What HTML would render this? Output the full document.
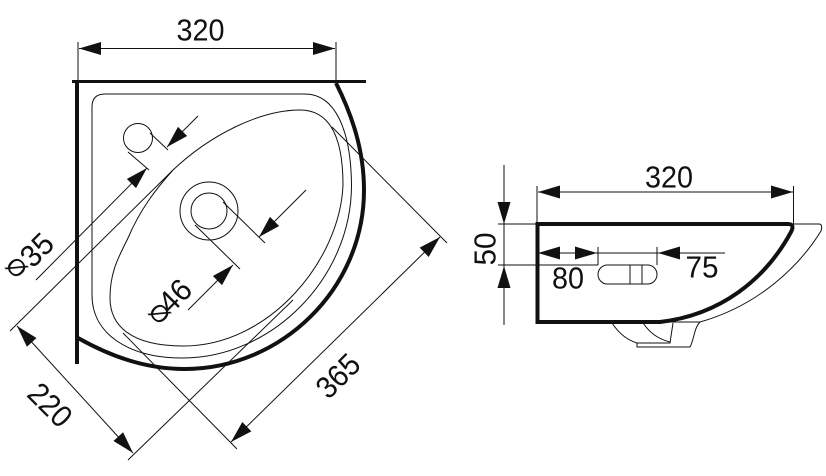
<!DOCTYPE html>
<html><head><meta charset="utf-8"><style>
html,body{margin:0;padding:0;background:#fff}
svg{display:block}
text{font-family:"Liberation Sans",sans-serif;font-size:31px;fill:#111;text-anchor:middle;dominant-baseline:central}
.t{fill:none;stroke:#111;stroke-width:1}
.b{fill:none;stroke:#111;stroke-width:4}
</style></head><body>
<svg width="826" height="476" viewBox="0 0 826 476" xmlns="http://www.w3.org/2000/svg">
<defs><polygon id="a" points="0,0 -22,-6.5 -22,6.5" fill="#111"/></defs>
<!-- left view -->
<path class="b" d="M72 81.5H366" style="stroke-width:3"/>
<path class="b" d="M77 81V364" style="stroke-width:4"/>
<path class="b" d="M336 83C352 115 364 150 364 190C364 290 280 369 185 369C145 369 110 356 78 338"/>
<path class="t" d="M78 42V80M336 42V80M79 48.5H335"/>
<use href="#a" transform="translate(79 48.5) rotate(180)"/>
<use href="#a" transform="translate(335 48.5)"/>
<path class="t" d="M105 94H305C335 94 351 130 351.500 185C351.500 280 270 358 183 358C130 358 92 335 92 295V107Q92 94 105 94Z"/>
<path class="t" d="M300 110C340 110 343 160 343 185C340 260 270 346 183 346C130 346 110 325 110 298C110 270 120 255 128 238C140 210 155 190 173 170C210 135 260 110 300 110Z"/>
<circle class="t" cx="138" cy="138" r="14.500"/>
<circle class="t" cx="209" cy="211" r="29"/>
<circle class="t" cx="209" cy="211" r="18"/>
<path class="t" d="M150 133L168 150M128 152L149 170M198 116L167 147M147 168L36 280"/>
<use href="#a" transform="translate(167 147) rotate(135)"/>
<use href="#a" transform="translate(147 168) rotate(-45)"/>
<path class="t" d="M223 202L265 243M195 225L240 269M306 190L259 237M233 265L188 310"/>
<use href="#a" transform="translate(259 237) rotate(135)"/>
<use href="#a" transform="translate(233 265) rotate(-45)"/>
<path class="t" d="M332 127L447 243M123 333L237 449M231 442L440 237M10 331L173 170M128 460L293 300M17 326L133 453"/>
<use href="#a" transform="translate(231 442) rotate(136)"/>
<use href="#a" transform="translate(440 237) rotate(-44)"/>
<use href="#a" transform="translate(17 326) rotate(-132)"/>
<use href="#a" transform="translate(133 453) rotate(48)"/>
<text x="200.500" y="30" textLength="48" lengthAdjust="spacingAndGlyphs">320</text>
<text transform="translate(16 268) rotate(45)" style="font-size:24px">Ø</text>
<text transform="translate(37 250) rotate(-45)" textLength="33" lengthAdjust="spacingAndGlyphs">35</text>
<text transform="translate(159 314) rotate(45)" style="font-size:24px">Ø</text>
<text transform="translate(175 296) rotate(-45)" textLength="33" lengthAdjust="spacingAndGlyphs">46</text>
<text transform="translate(338 376) rotate(-45)" textLength="48" lengthAdjust="spacingAndGlyphs">365</text>
<text transform="translate(50 405) rotate(45)" textLength="48" lengthAdjust="spacingAndGlyphs">220</text>
<!-- right view -->
<path class="b" d="M537.500 224H788Q795 224 791 232C765 280 720 315 660 322H537.500Z"/>
<path class="t" d="M793 224H819Q823 224 821 231C800 265 760 305 700 322H660M700 322C694 328 694 340 690 347H637V343H670L673 323M612 323C620 335 628 340 637 343M643 323C650 333 658 339 670 342"/>
<rect class="t" x="598" y="265" width="59" height="19" rx="9.500"/>
<path class="t" d="M630 265V284M642 265V284M598 247V265M657 247V265M537 186V224M793.500 186V224M538 192H793M537 253H657M657 253H725M504 165V325M498 224H537M498 265H598"/>
<use href="#a" transform="translate(538 192) rotate(180)"/>
<use href="#a" transform="translate(793 192)"/>
<use href="#a" transform="translate(538 253) rotate(180)"/>
<use href="#a" transform="translate(597 253)"/>
<use href="#a" transform="translate(658 253) rotate(180)"/>
<use href="#a" transform="translate(504 224) rotate(90)"/>
<use href="#a" transform="translate(504 266) rotate(-90)"/>
<text x="669" y="177" textLength="48" lengthAdjust="spacingAndGlyphs">320</text>
<text x="568" y="278" textLength="32" lengthAdjust="spacingAndGlyphs">80</text>
<text x="702" y="267" textLength="33" lengthAdjust="spacingAndGlyphs">75</text>
<text transform="translate(485 249) rotate(-90)" textLength="33" lengthAdjust="spacingAndGlyphs">50</text>
</svg>
</body></html>
